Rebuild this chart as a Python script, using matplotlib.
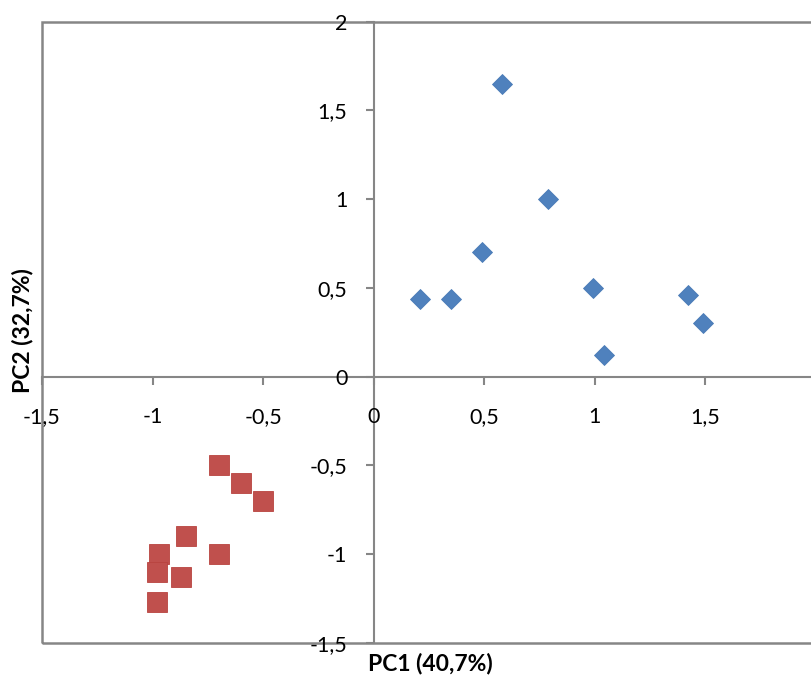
import matplotlib
matplotlib.use("Agg")
import matplotlib.pyplot as plt
from matplotlib.patches import Rectangle

plt.rcParams['font.family'] = ['Lato', 'DejaVu Sans']

# Data (PC1, PC2 scores)
blue_x = [0.21, 0.35, 0.49, 0.58, 0.79, 0.99, 1.04, 1.42, 1.49]
blue_y = [0.44, 0.44, 0.70, 1.65, 1.00, 0.50, 0.12, 0.46, 0.30]
red_x = [-0.70, -0.60, -0.50, -0.85, -0.97, -0.70, -0.98, -0.87, -0.98]
red_y = [-0.50, -0.60, -0.70, -0.90, -1.00, -1.00, -1.10, -1.13, -1.27]

xticks = [-1.5, -1.0, -0.5, 0.0, 0.5, 1.0, 1.5, 2.0]
xtick_labels = ['-1,5', '-1', '-0,5', '0', '0,5', '1', '1,5', '2']
yticks = [-1.5, -1.0, -0.5, 0.0, 0.5, 1.0, 1.5, 2.0]
ytick_labels = ['-1,5', '-1', '-0,5', '0', '0,5', '1', '1,5', '2']
xlabel = 'PC1 (40,7%)'
ylabel = 'PC2 (32,7%)'

W, H = 812, 678
fig = plt.figure(figsize=(W / 100, H / 100), dpi=100)
left, right, top, bottom = 42, 816, 21.5, 643
ax = fig.add_axes([left / W, 1 - bottom / H, (right - left) / W, (bottom - top) / H])
ax.set_xlim(-1.5, 2.0)
ax.set_ylim(-1.5, 2.0)

axis_color = '#868686'
for s in ['top', 'right']:
    ax.spines[s].set_visible(False)
ax.spines['left'].set_position(('data', 0))
ax.spines['bottom'].set_position(('data', 0))
for s in ['left', 'bottom']:
    ax.spines[s].set_color(axis_color)
    ax.spines[s].set_linewidth(1.5)
    ax.spines[s].set_zorder(1)

# plot-area border
ax.add_patch(Rectangle((0, 0), 1, 1, transform=ax.transAxes, fill=False,
                       edgecolor=axis_color, linewidth=1.8, clip_on=False, zorder=0.5))

ax.set_xticks(xticks)
ax.set_xticklabels(xtick_labels)
ax.set_yticks(yticks)
ax.set_yticklabels(ytick_labels)
ax.tick_params(axis='x', direction='out', length=6, width=1.5, color=axis_color,
               pad=16, labelsize=15.5, labelcolor='black')
ax.tick_params(axis='y', direction='out', length=6, width=1.5, color=axis_color,
               pad=13, labelsize=15.5, labelcolor='black')

ax.plot(blue_x, blue_y, linestyle='none', marker='D', markersize=10.2,
        markerfacecolor='#4F81BD', markeredgecolor='#4A7BB7', markeredgewidth=0.6,
        zorder=3, clip_on=False)
ax.plot(red_x, red_y, linestyle='none', marker='s', markersize=13.8,
        markerfacecolor='#C0504D', markeredgecolor='#B8433F', markeredgewidth=0.6,
        zorder=3, clip_on=False)

fig.text(430 / W, 1 - 664 / H, xlabel, ha='center', va='center',
         fontsize=16.5, fontweight='bold')
fig.text(23 / W, 1 - 331 / H, ylabel, ha='center', va='center', rotation=90,
         fontsize=16.5, fontweight='bold')

fig.savefig('out.png', dpi=100)
